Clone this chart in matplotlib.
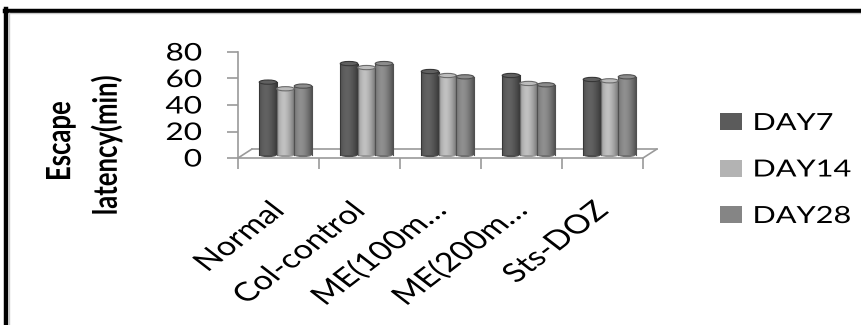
import numpy as np
import matplotlib
matplotlib.use("Agg")
import matplotlib.pyplot as plt
from matplotlib.patches import Rectangle, Ellipse, Patch
from matplotlib.lines import Line2D
from matplotlib.transforms import ScaledTranslation, Affine2D
from matplotlib.patheffects import AbstractPathEffect

categories = ["Normal", "Col-control", "ME(100m\u2026", "ME(200m\u2026", "Sts-DOZ"]
series_names = ["DAY7", "DAY14", "DAY28"]
day7 = [55, 69, 63, 60, 57]
day14 = [50, 66, 60, 54, 56]
day28 = [52, 69, 59, 53, 59]
series_values = [day7, day14, day28]
series_colors = ["#5b5b5b", "#b3b3b3", "#858585"]
yticks = [0, 20, 40, 60, 80]

plt.rcParams["font.family"] = ["Lato", "DejaVu Sans"]


class WideText(AbstractPathEffect):
    """Widen glyphs horizontally (in display space) about one end of the text."""

    def __init__(self, sx=1.3, anchor="left"):
        super().__init__()
        self.sx = sx
        self.anchor = anchor

    def draw_path(self, renderer, gc, tpath, affine, rgbFace=None):
        ext = tpath.get_extents()
        ym = 0.5 * (ext.y0 + ext.y1)
        px = {"left": ext.x0, "right": ext.x1,
              "center": 0.5 * (ext.x0 + ext.x1)}[self.anchor]
        ox, oy = affine.transform((px, ym))
        wide = affine + Affine2D().translate(-ox, -oy).scale(self.sx, 1.0).translate(ox, oy)
        renderer.draw_path(gc, tpath, wide, rgbFace)


SX = 1.3
W, H, DPI = 861, 325, 100
fig = plt.figure(figsize=(W / DPI, H / DPI), dpi=DPI)
fig.patch.set_facecolor("white")

# plot area (front plane of the 3-D box)
x0, x1, y_top, y_bot = 238, 643, 52, 158
ax = fig.add_axes([x0 / W, 1 - y_bot / H, (x1 - x0) / W, (y_bot - y_top) / H])
ax.set_xlim(-0.5, len(categories) - 0.5)
ax.set_ylim(0, 80)
ax.patch.set_alpha(0)
for s in ["top", "right", "bottom"]:
    ax.spines[s].set_visible(False)
axis_gray = "#9a9a9a"
ax.spines["left"].set_color(axis_gray)
ax.spines["left"].set_linewidth(1.2)

ax.set_yticks(yticks)
ax.set_yticklabels([str(v) for v in yticks], fontsize=17.5)
ax.tick_params(axis="y", length=8, width=1.2, color=axis_gray, pad=18)
for lbl in ax.get_yticklabels():
    lbl.set_path_effects([WideText(SX, "right")])

# category boundaries carry tick marks, centres carry the labels
ax.set_xticks(np.arange(len(categories)))
ax.set_xticklabels(categories, fontsize=19, rotation=45, ha="right",
                   va="center", rotation_mode="anchor")
ax.tick_params(axis="x", which="major", length=0, pad=35)
for lbl in ax.get_xticklabels():
    lbl.set_path_effects([WideText(SX, "right")])
ax.set_xticks(np.arange(len(categories) + 1) - 0.5, minor=True)
ax.tick_params(axis="x", which="minor", length=8, width=1.2, color=axis_gray,
               direction="out")

# floor of the 3-D box
depth = ScaledTranslation(14 / DPI, 9 / DPI, fig.dpi_scale_trans)
xl, xr = -0.5, len(categories) - 0.5
ax.plot([xl, xr], [0, 0], color=axis_gray, lw=1.2, clip_on=False)
ax.plot([xl, xr], [0, 0], color=axis_gray, lw=1.2, clip_on=False,
        transform=ax.transData + depth)
for xe in (xl, xr):
    ax.annotate("", xy=(xe, 0), xycoords=ax.transData + depth,
                xytext=(xe, 0), textcoords="data",
                arrowprops=dict(arrowstyle="-", color=axis_gray, lw=1.2,
                                shrinkA=0, shrinkB=0))

# cylinders, set back into the box
bar_w = 0.216
shift = ScaledTranslation(7 / DPI, 3 / DPI, fig.dpi_scale_trans)
bar_tr = ax.transData + shift
t = np.linspace(0, 1, 64)
shade = 1.0 - 0.42 * (np.abs(t - 0.38) / 0.62) ** 1.6
cap_h = 3.2

for k, (vals, col) in enumerate(zip(series_values, series_colors)):
    rgb = np.array(matplotlib.colors.to_rgb(col))
    img = np.clip(shade[None, :, None] * rgb[None, None, :] * 1.08, 0, 1)
    for i, v in enumerate(vals):
        xc = i + (k - 1) * bar_w
        left = xc - bar_w / 2
        bot = Ellipse((xc, 0), bar_w, cap_h, transform=bar_tr,
                      facecolor=rgb * 0.85, edgecolor="none", zorder=3)
        ax.add_patch(bot)
        rect = Rectangle((left, 0), bar_w, v, transform=bar_tr,
                         facecolor="none", edgecolor="none", zorder=4)
        ax.add_patch(rect)
        im = ax.imshow(img, extent=(left, left + bar_w, 0, v), aspect="auto",
                       transform=bar_tr, zorder=4, interpolation="bilinear")
        im.set_clip_path(rect)
        ax.plot([left, left], [0, v], color=rgb * 0.6, lw=0.8,
                transform=bar_tr, zorder=5)
        ax.plot([left + bar_w, left + bar_w], [0, v], color=rgb * 0.6, lw=0.8,
                transform=bar_tr, zorder=5)
        top = Ellipse((xc, v), bar_w, cap_h, transform=bar_tr,
                      facecolor=np.clip(rgb * 1.05, 0, 1),
                      edgecolor=rgb * 0.6, lw=0.8, zorder=6)
        ax.add_patch(top)

ax.set_xlim(-0.5, len(categories) - 0.5)
ax.set_ylim(0, 80)

# axis title, two lines
for xpx, ypx, txt in [(60, 141, "Escape"), (106, 145, "latency(min)")]:
    fig.text(xpx / W, 1 - ypx / H, txt, rotation=90, ha="center", va="center",
             fontsize=18.5, fontweight="bold",
             path_effects=[WideText(SX, "center")])

# legend
handles = [Patch(facecolor=c, edgecolor="none") for c in series_colors]
leg = fig.legend(handles, series_names, loc="center left",
                 bbox_to_anchor=(720 / W, 1 - 170 / H), frameon=False,
                 fontsize=17, handlelength=0.93, handleheight=0.72,
                 handletextpad=0.47, labelspacing=1.08, borderaxespad=0,
                 borderpad=0)
for txt in leg.get_texts():
    txt.set_path_effects([WideText(SX, "left")])

# outer frame
fig.add_artist(Line2D([4.5 / W, 1], [1 - 10.5 / H, 1 - 10.5 / H],
                      transform=fig.transFigure, color="black", lw=3.2))
fig.add_artist(Line2D([5.5 / W, 5.5 / W], [0, 1 - 9 / H],
                      transform=fig.transFigure, color="black", lw=3.2))
fig.add_artist(Line2D([8.5 / W, 8.5 / W], [0, 1 - 12.5 / H],
                      transform=fig.transFigure, color="#c8c8c8", lw=1.0))
fig.add_artist(Line2D([8.5 / W, 1], [1 - 13 / H, 1 - 13 / H],
                      transform=fig.transFigure, color="#c8c8c8", lw=1.0))

fig.savefig("out.png", dpi=DPI, facecolor="white")
